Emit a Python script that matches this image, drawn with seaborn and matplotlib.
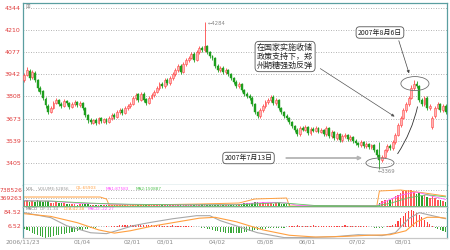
import numpy as np
import pandas as pd
import matplotlib
matplotlib.use("Agg")
import matplotlib.pyplot as plt
import seaborn as sns
from matplotlib.patches import Ellipse

# ---------------- data ----------------
opens = [3910,3940,3965,3925,3950,3905,3858,3840,3795,3752,
         3716,3740,3770,3784,3765,3752,3778,3770,3746,3760,
         3772,3754,3766,3736,3694,3668,3650,3668,3650,3675,
         3656,3673,3655,3675,3698,3685,3712,3728,3710,3736,
         3748,3765,3796,3820,3788,3825,3790,3770,3797,3815,
         3833,3857,3886,3869,3910,3888,3918,3942,3966,3995,
         3954,4003,4027,4043,4068,4027,4075,4104,4088,4112,
         4079,4055,4039,3995,3966,3982,3954,3970,3946,3922,
         3898,3869,3885,3849,3825,3813,3801,3760,3716,3688,
         3724,3748,3772,3784,3807,3766,3788,3740,3716,3692,
         3679,3655,3631,3607,3578,3619,3603,3625,3584,3613,
         3597,3619,3591,3607,3578,3619,3566,3595,3554,3582,
         3542,3566,3576,3548,3564,3540,3528,3512,3534,3506,
         3522,3500,3512,3485,3455,3421,3443,3481,3510,3494,
         3530,3576,3633,3679,3724,3760,3801,3857,3885,3869,
         3788,3760,3801,3736,3620,3690,3740,3764,3724,3752]
closes = [3938,3968,3920,3956,3908,3860,3835,3799,3756,3714,
          3738,3768,3786,3762,3750,3780,3768,3744,3762,3774,
          3756,3768,3738,3696,3665,3653,3665,3647,3677,3659,
          3671,3653,3677,3696,3683,3714,3726,3708,3738,3750,
          3762,3799,3817,3786,3823,3786,3768,3799,3817,3835,
          3859,3883,3871,3908,3890,3920,3944,3968,3993,3956,
          4005,4029,4041,4065,4029,4077,4102,4090,4114,4077,
          4053,4041,3993,3968,3980,3956,3968,3944,3920,3896,
          3871,3883,3847,3823,3811,3799,3762,3714,3690,3726,
          3750,3774,3786,3805,3768,3786,3738,3714,3690,3677,
          3653,3629,3605,3580,3617,3605,3623,3586,3611,3599,
          3617,3593,3605,3580,3617,3568,3593,3556,3580,3544,
          3568,3574,3550,3562,3538,3526,3514,3532,3508,3520,
          3502,3514,3483,3453,3423,3441,3483,3508,3496,3532,
          3574,3635,3677,3726,3762,3799,3859,3883,3871,3786,
          3762,3799,3738,3750,3680,3738,3762,3726,3750,3714]
highs = [3952,3985,3975,3968,3962,3915,3870,3848,3806,3760,
         3750,3778,3798,3792,3772,3792,3788,3776,3772,3784,
         3780,3778,3772,3742,3700,3676,3674,3675,3686,3682,
         3680,3680,3688,3705,3706,3724,3736,3735,3748,3760,
         3772,3810,3830,3828,3834,3832,3798,3808,3826,3845,
         3870,3895,3895,3920,3918,3932,3955,3980,4005,4002,
         4018,4040,4052,4078,4075,4090,4115,4112,4262,4120,
         4086,4062,4045,4002,3990,3990,3978,3976,3952,3928,
         3905,3895,3890,3856,3832,3820,3808,3766,3722,3738,
         3760,3785,3796,3818,3814,3796,3794,3746,3722,3700,
         3686,3662,3638,3614,3628,3626,3632,3630,3620,3620,
         3626,3625,3614,3612,3626,3624,3602,3600,3590,3588,
         3578,3584,3582,3572,3570,3548,3535,3542,3540,3530,
         3528,3522,3518,3492,3530,3452,3492,3518,3518,3544,
         3586,3648,3690,3740,3776,3812,3875,3908,3900,3878,
         3796,3812,3810,3762,3692,3750,3772,3770,3760,3760]
lows = [3898,3930,3905,3915,3896,3838,3822,3785,3740,3700,
        3705,3730,3760,3750,3738,3745,3756,3730,3738,3752,
        3745,3746,3728,3684,3650,3640,3642,3636,3644,3650,
        3648,3644,3648,3668,3674,3678,3704,3698,3702,3728,
        3740,3758,3788,3776,3780,3775,3758,3762,3790,3806,
        3826,3850,3860,3862,3880,3880,3910,3934,3958,3945,
        3948,3995,4018,4035,4018,4020,4066,4080,4080,4066,
        4042,4030,3982,3958,3958,3945,3946,3934,3910,3885,
        3860,3860,3836,3812,3800,3788,3750,3702,3676,3680,
        3716,3740,3764,3776,3758,3758,3728,3702,3678,3666,
        3642,3618,3594,3568,3570,3596,3596,3576,3576,3590,
        3590,3584,3584,3570,3570,3558,3558,3546,3546,3534,
        3534,3558,3540,3540,3528,3516,3504,3504,3498,3498,
        3492,3492,3472,3440,3369,3410,3434,3472,3486,3486,
        3522,3568,3624,3670,3715,3750,3792,3846,3858,3774,
        3750,3752,3726,3726,3608,3680,3730,3716,3716,3704]
volume_k = [220,260,180,240,200,270,230,190,250,210,160,150,180,140,120,130,
            90,80,70,85,60,75,90,80,70,60,55,65,50,60,45,55,40,50,45,40,35,45,40,35,30,
            40,35,45,30,40,35,50,45,40,55,60,50,45,40,55,60,45,50,40,35,
            45,50,55,60,70,65,80,90,60,55,50,45,40,50,45,40,35,50,55,60,
            80,100,120,150,140,160,180,170,150,190,140,120,130,110,150,120,100,90,110,80,
            20,15,10,12,8,10,6,8,10,5,8,6,10,5,8,6,5,10,8,6,5,8,6,5,10,8,6,5,8,10,6,8,12,
            150,220,260,300,280,380,450,520,620,700,680,740,720,650,560,600,480,520,420,
            380,450,360,300,260,240,200]
oi_idx = [0, 28.6, 31, 32, 44, 66, 81, 87, 99, 100, 133, 134, 142, 151, 159]
oi_k = [415, 415, 323, 46, 46, 92, 138, 323, 369, 0, 0, 692, 738, 600, 461]
ma1_idx = [0, 10, 20, 30, 40, 60, 80, 85, 92, 99, 103, 133, 136, 142, 148, 154, 159]
ma1_k = [250, 220, 130, 100, 70, 50, 60, 120, 170, 140, 30, 10, 200, 500, 650, 450, 300]
ma2_idx = [0, 10, 20, 30, 40, 60, 80, 88, 96, 102, 110, 133, 138, 145, 152, 159]
ma2_k = [230, 230, 160, 110, 80, 55, 55, 100, 150, 100, 20, 10, 120, 380, 520, 420]
dif_idx = [0,10,16,25,31,35,41,47,56,65,70,74,88,98,107,117,126,135,140,145,149,154,159]
dif = [81,53,8,-31,-36,-19,8,25,47,64,64,36,-31,-58,-58,-53,-42,-47,-31,47,81,64,47]
dea_idx = [0,10,20,28,34,40,48,58,66,72,80,90,100,110,120,130,138,144,148,152,156,159]
dea = [75,60,25,-15,-33,-20,5,30,50,55,30,-15,-45,-55,-52,-45,-42,-20,30,55,55,50]
macd_hist = [-10,-15,-22,-30,-38,-45,-50,-55,-58,-56,-52,-50,-46,-44,-40,-38,-35,-30,-28,-25,-20,-18,-15,-12,-8,-5,
             -3,-2,-1,2,3,4,3,5,
             6,8,10,12,14,12,10,12,14,16,14,12,10,12,10,8,9,10,8,7,8,9,10,8,6,7,8,6,5,4,3,2,1,-2,
             -4,-8,-12,-16,-20,-22,-25,-28,-30,-32,-33,-34,-35,-33,-30,-28,-26,-24,-20,-18,-15,-12,-10,
             -8,-6,-5,-4,-3,-2,-3,-2,-1,
             4,6,8,10,8,6,5,7,8,10,9,7,6,5,6,8,7,6,5,6,8,10,9,7,6,5,4,5,6,5,3,2,-2,-4,
             -6,-3,2,5,8,12,
             20,35,50,65,80,90,95,90,80,70,55,
             40,28,18,8,-5,-12,-18,-22,-25]
price_ticks = [4344, 4210, 4077, 3942, 3808, 3673, 3539, 3405]
price_tick_labels = ["4344", "4210", "4077", "3942", "3808", "3673", "3539", "3405"]
vol_ticks = [369263, 738526]
vol_tick_labels = ["369263", "738526"]
macd_ticks = [6.52, 84.52]
macd_tick_labels = ["6.52", "84.52"]
date_pos = [-0.5, 21.8, 40.6, 53, 72.7, 90.8, 106.7, 125.5, 142.9]
date_labels = ["2006/11/23", "01/04", "02/01", "03/01", "04/02", "05/08", "06/01", "07/02", "08/01"]
peak_label = "\u21904284"
low_label = "\u21903369"
note_main = "在国家实施收储\n政策支持下，郑\n州期糖强劲反弹"
note_aug = "2007年8月6日"
note_jul = "2007年7月13日"
vol_legend = [("VOL", "#777777"), ("VOLUME:52856", "#999999"), ("CJL:65903", "#ffa040"),
              ("MA1:87583", "#ff50ff"), ("MA2:150887", "#50c050")]
macd_legend = [("MACD", "#777777"), ("DIF:31.34", "#999999"), ("DEA:42.48", "#ffa040"),
               ("MACD:-22.27", "#ff50ff")]

for name, arr in [("opens", opens), ("closes", closes), ("highs", highs), ("lows", lows),
                  ("volume_k", volume_k), ("macd_hist", macd_hist)]:
    if len(arr) != 160:
        raise ValueError(f"{name} has {len(arr)}")

# ---------------- styling ----------------
sns.set_style("white")
plt.rcParams['font.family'] = ['DejaVu Sans', 'Noto Sans CJK SC']
CJK = ['Noto Sans CJK SC', 'DejaVu Sans']

UP_FACE, UP_EDGE = "#ffb4b4", "#ff4848"
DN = "#1e9e1e"
FRAME = "#5a9ea0"
LABEL_RED = "#e03c3c"
GRID = dict(linestyle=(0, (1, 2)), color="#9a9a9a", linewidth=0.6)

W, H = 450, 250
def rect(x0, y0, x1, y1):
    return [x0 / W, 1 - y1 / H, (x1 - x0) / W, (y1 - y0) / H]

fig = plt.figure(figsize=(4.5, 2.5), dpi=100)
fig.patch.set_facecolor("white")
ax = fig.add_axes(rect(23, 3, 447, 185))
axv = fig.add_axes(rect(23, 185, 447, 207))
axm = fig.add_axes(rect(23, 207, 447, 238))

df = pd.DataFrame(dict(i=np.arange(160), o=opens, c=closes, h=highs, l=lows,
                       v=np.array(volume_k) * 1000.0, m=macd_hist))
up = df.c >= df.o
dn = ~up

# candles
ax.vlines(df.i[up], df.l[up], df.h[up], color=UP_EDGE, lw=0.6, zorder=2)
ax.vlines(df.i[dn], df.l[dn], df.h[dn], color=DN, lw=0.6, zorder=2)
ax.bar(df.i[up], (df.c - df.o)[up].clip(lower=3), bottom=df.o[up], width=0.72,
       color=UP_FACE, edgecolor=UP_EDGE, linewidth=0.4, zorder=3)
ax.bar(df.i[dn], (df.o - df.c)[dn].clip(lower=3), bottom=df.c[dn], width=0.72,
       color=DN, edgecolor=DN, linewidth=0.3, zorder=3)

ax.set_xlim(-0.5, 159.5)
ax.set_ylim(3271.4, 4374.3)
ax.set_yticks(price_ticks)
ax.set_yticklabels(price_tick_labels)
ax.yaxis.grid(True, **GRID)
ax.xaxis.grid(False)
ax.tick_params(axis='y', length=0, labelsize=4.5, labelcolor=LABEL_RED, pad=1.5)
ax.tick_params(axis='x', length=0, labelbottom=False)

# annotations
bbox = dict(boxstyle="round,pad=0.25,rounding_size=0.5", fc="white", ec="#555555", lw=0.6)
ax.text(134.2, 4195.5, note_aug, ha='center', va='center', fontsize=5, family=CJK,
        color="#222222", bbox=bbox, zorder=6)
ax.annotate("", xy=(145.5, 3932), xytext=(141.0, 4162),
            arrowprops=dict(arrowstyle="-|>", color="#444444", lw=0.5, mutation_scale=4), zorder=5)
ax.text(98.4, 4050, note_main, ha='center', va='center', fontsize=5.8, family=CJK,
        linespacing=0.95, color="#222222", bbox=bbox, zorder=6)
ax.annotate("", xy=(140.6, 3677), xytext=(110.8, 3986),
            arrowprops=dict(arrowstyle="-|>", color="#555555", lw=0.5, mutation_scale=4), zorder=5)
ax.text(84.6, 3435, note_jul, ha='center', va='center', fontsize=5, family=CJK,
        color="#222222", bbox=bbox, zorder=6)
ax.annotate("", xy=(128.6, 3435), xytext=(97.8, 3435),
            arrowprops=dict(arrowstyle="-|>", color="#b4b4b4", lw=1.3, mutation_scale=5), zorder=5)
ax.annotate("", xy=(148.6, 3762), xytext=(140.3, 3447),
            arrowprops=dict(arrowstyle="-", color="#333333", lw=0.6,
                            connectionstyle="arc3,rad=0.1"), zorder=5)
ax.add_patch(Ellipse((134.2, 3405), 10.6, 60, fill=False, ec="#707070", lw=0.6, zorder=5))
ax.add_patch(Ellipse((147.4, 3886), 10.6, 85, fill=False, ec="#707070", lw=0.6, zorder=5))
ax.text(69.3, 4253, peak_label, fontsize=3.8, color="#888888", va='center', ha='left')
ax.text(133.3, 3356, low_label, fontsize=3.8, color="#888888", va='center', ha='left')

# volume panel
vcol = np.where(up, "#ff5a5a", "#2aa02a")
axv.bar(df.i, df.v, width=0.6, color=vcol, linewidth=0)
sns.lineplot(x=oi_idx, y=np.array(oi_k) * 1000.0, ax=axv, color="#ffa040", lw=0.7)
sns.lineplot(x=ma1_idx, y=np.array(ma1_k) * 1000.0, ax=axv, color="#ff60ff", lw=0.6)
sns.lineplot(x=ma2_idx, y=np.array(ma2_k) * 1000.0, ax=axv, color="#60c860", lw=0.6)
axv.axhline(0, color="#5fb85f", lw=0.6)
axv.set_xlim(-0.5, 159.5)
axv.set_ylim(-46000, 969000)
axv.set_yticks(vol_ticks)
axv.set_yticklabels(vol_tick_labels)
axv.yaxis.grid(True, **GRID)
axv.tick_params(axis='y', length=0, labelsize=4.3, labelcolor=LABEL_RED, pad=0.5)
axv.tick_params(axis='x', length=0, labelbottom=False)
axv.set_xticks([])

# MACD panel
mcol = np.where(df.m >= 0, "#ff4040", "#3aa83a")
axm.bar(df.i, df.m, width=0.42, color=mcol, linewidth=0)
sns.lineplot(x=dif_idx, y=dif, ax=axm, color="#a8a8a8", lw=0.8)
sns.lineplot(x=dea_idx, y=dea, ax=axm, color="#ffa040", lw=0.8)
axm.set_xlim(-0.5, 159.5)
axm.set_ylim(-60.3, 112.4)
axm.set_yticks(macd_ticks)
axm.set_yticklabels(macd_tick_labels)
axm.yaxis.grid(True, **GRID)
axm.tick_params(axis='y', length=0, labelsize=4.5, labelcolor=LABEL_RED, pad=1.5)
axm.set_xticks(date_pos)
axm.set_xticklabels(date_labels)
axm.tick_params(axis='x', length=0, labelsize=4.3, labelcolor="#8a8a8a", pad=0.8)

for a in (ax, axv, axm):
    a.set_facecolor("white")
    a.set_xlabel(""); a.set_ylabel("")
    if a.get_legend():
        a.get_legend().remove()
    for s in a.spines.values():
        s.set_color(FRAME)
        s.set_linewidth(0.9)
axv.spines['top'].set_visible(False)
axm.spines['top'].set_color("#c8c8c8")
axm.spines['top'].set_linewidth(0.5)
axm.spines['bottom'].set_color("#c8c8c8")

# legend texts
def ftext(x, y, s, c, fs=3.0):
    fig.text(x / W, 1 - y / H, s, color=c, fontsize=fs, va='center', ha='left')
for (s, c), x in zip(vol_legend, [26, 38, 76, 106, 136]):
    ftext(x, 188.5, s, c)
for (s, c), x in zip(macd_legend, [26, 40, 64, 88]):
    ftext(x, 209.5, s, c)
ftext(25, 6.5, "\u229e", "#888888", fs=4)

fig.savefig("out.png", dpi=100, facecolor="white")
